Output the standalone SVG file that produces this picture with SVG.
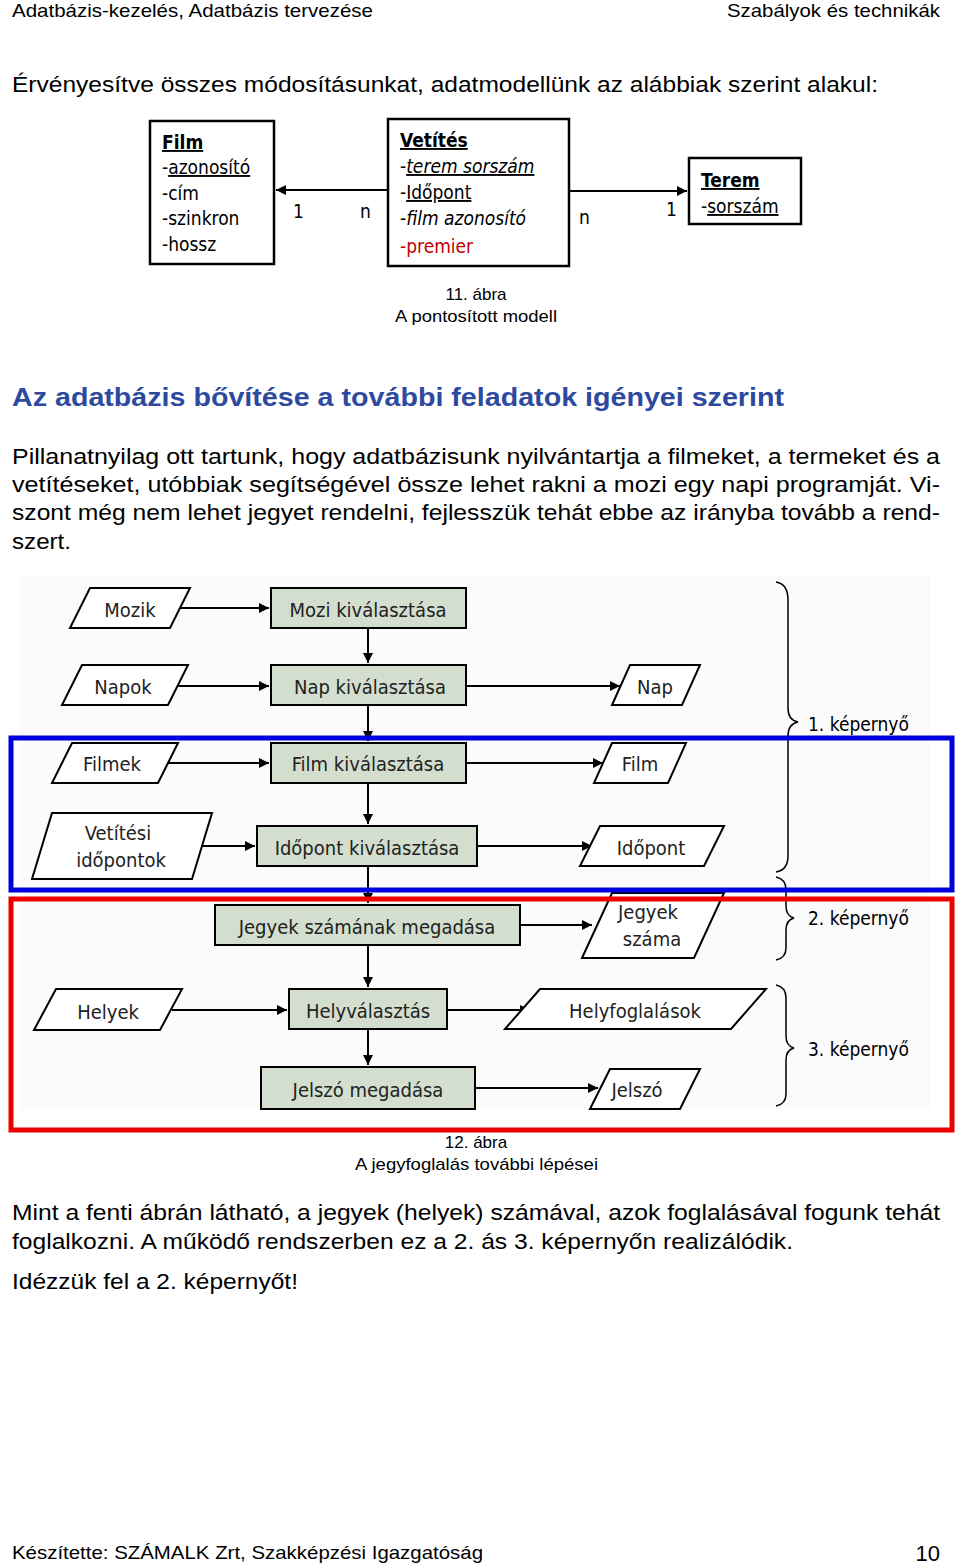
<svg xmlns="http://www.w3.org/2000/svg" width="960" height="1564" viewBox="0 0 960 1564">
<style>
.t{font-family:"Liberation Sans",Arial,sans-serif;fill:#000}
.e{font-family:"DejaVu Sans Condensed","Liberation Sans",sans-serif;font-size:19px;fill:#000}
.u{text-decoration:underline}
.box{fill:#fff;stroke:#000;stroke-width:2.5}
.p{fill:#fff;stroke:#000;stroke-width:2}
.r{fill:#d3dece;stroke:#000;stroke-width:2}
.f{font-family:"DejaVu Sans Condensed","Liberation Sans",sans-serif;font-size:20px;fill:#222;text-anchor:middle}
.ln{stroke:#000;stroke-width:2;fill:none}
.br{stroke:#000;stroke-width:1.5;fill:none}
</style>
<defs>
<marker id="a" viewBox="0 0 10 10" refX="10" refY="5" markerWidth="5" markerHeight="5" orient="auto"><path d="M0,0L10,5L0,10z" fill="#000"/></marker>
</defs>
<rect width="960" height="1564" fill="#fff"/>
<text class="t" x="12" y="17" font-size="19" textLength="361" lengthAdjust="spacingAndGlyphs">Adatbázis-kezelés, Adatbázis tervezése</text>
<text class="t" x="727" y="17" font-size="19" textLength="213" lengthAdjust="spacingAndGlyphs">Szabályok és technikák</text>
<text class="t" x="12" y="92" font-size="22" textLength="866" lengthAdjust="spacingAndGlyphs">Érvényesítve összes módosításunkat, adatmodellünk az alábbiak szerint alakul:</text>

<g id="film"><rect class="box" x="150" y="121" width="124" height="143"/>
<text class="e" x="162" y="149"><tspan class="u" font-weight="bold">Film</tspan></text>
<text class="e" x="162" y="174">-<tspan class="u">azonosító</tspan></text>
<text class="e" x="162" y="200">-cím</text>
<text class="e" x="162" y="225">-szinkron</text>
<text class="e" x="162" y="251">-hossz</text></g>
<g id="vetites"><rect class="box" x="388" y="119" width="181" height="147"/>
<text class="e" x="400" y="147"><tspan class="u" font-weight="bold">Vetítés</tspan></text>
<text class="e" x="400" y="173">-<tspan class="u" font-style="italic">terem sorszám</tspan></text>
<text class="e" x="400" y="199">-<tspan class="u">Időpont</tspan></text>
<text class="e" x="400" y="225">-<tspan font-style="italic">film azonosító</tspan></text>
<text class="e" x="400" y="253" style="fill:#c00000">-premier</text></g>
<g id="terem"><rect class="box" x="689" y="158" width="112" height="66"/>
<text class="e" x="701" y="187"><tspan class="u" font-weight="bold">Terem</tspan></text>
<text class="e" x="701" y="213">-<tspan class="u">sorszám</tspan></text></g>
<g id="erconn">
<line class="ln" x1="388" y1="190" x2="276" y2="190" stroke-width="2.5" marker-end="url(#a)"/>
<line class="ln" x1="569" y1="191" x2="687" y2="191" stroke-width="2.5" marker-end="url(#a)"/>
<text class="e" x="293" y="218" font-size="22">1</text>
<text class="e" x="360" y="218" font-size="22">n</text>
<text class="e" x="579" y="224" font-size="22">n</text>
<text class="e" x="666" y="216" font-size="22">1</text>
</g>
<text class="t" x="476" y="300" font-size="17" text-anchor="middle">11. ábra</text>
<text class="t" x="395" y="322" font-size="17" textLength="162" lengthAdjust="spacingAndGlyphs">A pontosított modell</text>

<text class="t" x="12" y="406" font-size="26" font-weight="bold" style="fill:#2e4a9e" textLength="772" lengthAdjust="spacingAndGlyphs">Az adatbázis bővítése a további feladatok igényei szerint</text>
<text class="t" x="12" y="464" font-size="22" textLength="928" lengthAdjust="spacingAndGlyphs">Pillanatnyilag ott tartunk, hogy adatbázisunk nyilvántartja a filmeket, a termeket és a</text>
<text class="t" x="12" y="492" font-size="22" textLength="928" lengthAdjust="spacingAndGlyphs">vetítéseket, utóbbiak segítségével össze lehet rakni a mozi egy napi programját. Vi-</text>
<text class="t" x="12" y="520" font-size="22" textLength="928" lengthAdjust="spacingAndGlyphs">szont még nem lehet jegyet rendelni, fejlesszük tehát ebbe az irányba tovább a rend-</text>
<text class="t" x="12" y="549" font-size="22" textLength="59" lengthAdjust="spacingAndGlyphs">szert.</text>

<rect x="20" y="575" width="910" height="535" fill="#fbfbfb"/>
<g id="conn">
<line class="ln" x1="178" y1="608" x2="269" y2="608" marker-end="url(#a)"/>
<line class="ln" x1="368" y1="628" x2="368" y2="663" marker-end="url(#a)"/>
<line class="ln" x1="176" y1="686" x2="269" y2="686" marker-end="url(#a)"/>
<line class="ln" x1="466" y1="686" x2="620" y2="686" marker-end="url(#a)"/>
<line class="ln" x1="368" y1="705" x2="368" y2="741" marker-end="url(#a)"/>
<line class="ln" x1="166" y1="763" x2="269" y2="763" marker-end="url(#a)"/>
<line class="ln" x1="466" y1="763" x2="603" y2="763" marker-end="url(#a)"/>
<line class="ln" x1="368" y1="783" x2="368" y2="824" marker-end="url(#a)"/>
<line class="ln" x1="198" y1="846" x2="255" y2="846" marker-end="url(#a)"/>
<line class="ln" x1="477" y1="846" x2="592" y2="846" marker-end="url(#a)"/>
<line class="ln" x1="368" y1="866" x2="368" y2="903" marker-end="url(#a)"/>
<line class="ln" x1="520" y1="925" x2="592" y2="925" marker-end="url(#a)"/>
<line class="ln" x1="368" y1="945" x2="368" y2="987" marker-end="url(#a)"/>
<line class="ln" x1="172" y1="1010" x2="287" y2="1010" marker-end="url(#a)"/>
<line class="ln" x1="447" y1="1010" x2="530" y2="1010" marker-end="url(#a)"/>
<line class="ln" x1="368" y1="1029" x2="368" y2="1065" marker-end="url(#a)"/>
<line class="ln" x1="475" y1="1088" x2="598" y2="1088" marker-end="url(#a)"/>
</g>
<g id="mozik"><polygon class="p" points="90,588 190,588 170,628 70,628"/><text class="f" x="130" y="617">Mozik</text></g>
<g id="mozisel"><rect class="r" x="271" y="588" width="195" height="40"/><text class="f" x="368" y="617">Mozi kiválasztása</text></g>
<g id="napok"><polygon class="p" points="82,665 188,665 168,705 62,705"/><text class="f" x="123" y="694">Napok</text></g>
<g id="napsel"><rect class="r" x="271" y="665" width="195" height="40"/><text class="f" x="370" y="694">Nap kiválasztása</text></g>
<g id="nap"><polygon class="p" points="630,665 700,665 682,705 612,705"/><text class="f" x="655" y="694">Nap</text></g>
<g id="filmek"><polygon class="p" points="72,743 178,743 158,783 52,783"/><text class="f" x="112" y="771">Filmek</text></g>
<g id="filmsel"><rect class="r" x="271" y="743" width="195" height="40"/><text class="f" x="368" y="771">Film kiválasztása</text></g>
<g id="filmout"><polygon class="p" points="612,743 686,743 668,783 594,783"/><text class="f" x="640" y="771">Film</text></g>
<g id="vetitesi"><polygon class="p" points="52,813 212,813 192,879 32,879"/><text class="f" x="118" y="840">Vetítési</text><text class="f" x="121" y="867">időpontok</text></g>
<g id="idosel"><rect class="r" x="257" y="826" width="220" height="40"/><text class="f" x="367" y="855">Időpont kiválasztása</text></g>
<g id="idoout"><polygon class="p" points="600,826 724,826 704,866 580,866"/><text class="f" x="651" y="855">Időpont</text></g>
<g id="jegyek"><rect class="r" x="215" y="905" width="305" height="40"/><text class="f" x="367" y="934">Jegyek számának megadása</text></g>
<g id="jegyszam"><polygon class="p" points="612,893 724,893 694,958 582,958"/><text class="f" x="648" y="919">Jegyek</text><text class="f" x="652" y="946">száma</text></g>
<g id="helyek"><polygon class="p" points="56,989 182,989 160,1030 34,1030"/><text class="f" x="108" y="1019">Helyek</text></g>
<g id="helyval"><rect class="r" x="289" y="989" width="158" height="40"/><text class="f" x="368" y="1018">Helyválasztás</text></g>
<g id="helyfog"><polygon class="p" points="540,989 766,989 731,1029 505,1029"/><text class="f" x="635" y="1018">Helyfoglalások</text></g>
<g id="jelszomeg"><rect class="r" x="261" y="1067" width="214" height="42"/><text class="f" x="368" y="1097">Jelszó megadása</text></g>
<g id="jelszo"><polygon class="p" points="610,1069 700,1069 680,1109 590,1109"/><text class="f" x="637" y="1097">Jelszó</text></g>
<g id="braces">
<path class="br" d="M776,582 Q788,584 788,600 L788,708 Q788,720 798,722 Q788,724 788,736 L788,856 Q788,870 776,872"/>
<path class="br" d="M776,877 Q786,879 786,890 L786,906 Q786,916 794,918 Q786,920 786,930 L786,948 Q786,958 776,960"/>
<path class="br" d="M776,985 Q786,987 786,998 L786,1036 Q786,1046 794,1048 Q786,1050 786,1060 L786,1094 Q786,1104 776,1106"/>
<text class="e" x="808" y="731" font-size="19">1. képernyő</text>
<text class="e" x="808" y="925" font-size="19">2. képernyő</text>
<text class="e" x="808" y="1056" font-size="19">3. képernyő</text>
</g>
<rect x="11" y="738" width="941" height="152" fill="none" stroke="#0000dd" stroke-width="5"/>
<rect x="11" y="899" width="941" height="231" fill="none" stroke="#ee0000" stroke-width="5"/>
<text class="t" x="476" y="1148" font-size="17" text-anchor="middle">12. ábra</text>
<text class="t" x="355" y="1170" font-size="17" textLength="243" lengthAdjust="spacingAndGlyphs">A jegyfoglalás további lépései</text>

<text class="t" x="12" y="1220" font-size="22" textLength="928" lengthAdjust="spacingAndGlyphs">Mint a fenti ábrán látható, a jegyek (helyek) számával, azok foglalásával fogunk tehát</text>
<text class="t" x="12" y="1249" font-size="22" textLength="781" lengthAdjust="spacingAndGlyphs">foglalkozni. A működő rendszerben ez a 2. ás 3. képernyőn realizálódik.</text>
<text class="t" x="12" y="1289" font-size="22" textLength="286" lengthAdjust="spacingAndGlyphs">Idézzük fel a 2. képernyőt!</text>
<text class="t" x="12" y="1559" font-size="19" textLength="471" lengthAdjust="spacingAndGlyphs">Készítette: SZÁMALK Zrt, Szakképzési Igazgatóság</text>
<text class="t" x="940" y="1561" font-size="22" text-anchor="end">10</text>
</svg>
